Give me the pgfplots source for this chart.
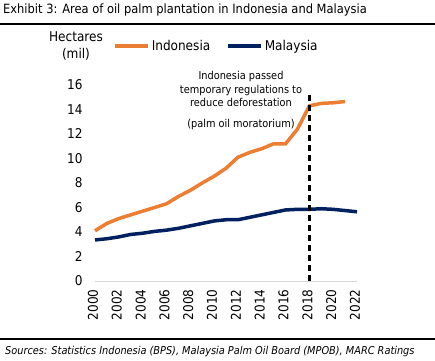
\documentclass[border=0pt]{standalone}
\usepackage{fontspec}
\setmainfont{DejaVu Sans Condensed}[ItalicFont={DejaVu Sans Condensed Oblique}]
\usepackage{pgfplots}
\pgfplotsset{compat=1.18}
\definecolor{ido}{RGB}{237,125,49}
\definecolor{mys}{RGB}{0,32,96}
\begin{document}
\begin{tikzpicture}
\useasboundingbox (0bp,0bp) rectangle (435bp,361bp);
\node[anchor=west, inner sep=0pt, font=\fontsize{12.8}{14}\selectfont] at (3bp,351bp) {Exhibit 3: Area of oil palm plantation in Indonesia and Malaysia};
\draw[line width=1.2bp] (0bp,337bp) -- (435bp,337bp);
\draw[line width=1.2bp] (0bp,22bp) -- (435bp,22bp);
\node[anchor=west, inner sep=0pt, font=\fontsize{10.9}{12}\selectfont\itshape] at (5bp,9bp) {Sources: Statistics Indonesia (BPS), Malaysia Palm Oil Board (MPOB), MARC Ratings};
\node[align=center, inner sep=0pt, font=\fontsize{13.5}{18}\selectfont] at (76bp,315bp) {Hectares\\(mil)};
\begin{axis}[
  at={(95bp,80bp)}, anchor=south west,
  scale only axis, width=262bp, height=196bp,
  xmin=2000, xmax=2022, ymin=0, ymax=16,
  xtick={2000,2002,...,2022}, ytick={0,2,...,16},
  x tick label style={/pgf/number format/1000 sep={}, rotate=90, anchor=east, font=\fontsize{13.5}{15}\selectfont, xshift=-5bp, yshift=2bp},
  y tick label style={font=\fontsize{13.5}{15}\selectfont, xshift=-9bp},
  /pgf/number format/assume math mode=true,
  major tick length=0pt,
  separate axis lines,
  y axis line style={draw=none},
  x axis line style={draw=black!15, line width=0.8bp},
  axis x line*=bottom, axis y line*=left,
  legend columns=2,
  legend style={draw=none, fill=none, at={(0.069,1.199)}, anchor=west, font=\fontsize{13.5}{15}\selectfont, inner sep=0pt,
    /tikz/every even column/.append style={column sep=14bp}},
  legend image code/.code={\draw[#1, line width=3.5bp] (0bp,0bp) -- (33bp,0bp);},
  clip=false,
]
\addplot[ido, line width=3.5bp] table {
x y
2000 4.1
2001 4.7
2002 5.1
2003 5.4
2004 5.7
2005 6.0
2006 6.3
2007 6.9
2008 7.4
2009 8.0
2010 8.55
2011 9.2
2012 10.1
2013 10.5
2014 10.8
2015 11.2
2016 11.2
2017 12.4
2018 14.3
2019 14.5
2020 14.55
2021 14.65
};
\addlegendentry{Indonesia}
\addplot[mys, line width=3.5bp] table {
x y
2000 3.35
2001 3.45
2002 3.6
2003 3.8
2004 3.9
2005 4.05
2006 4.15
2007 4.3
2008 4.5
2009 4.7
2010 4.9
2011 5.0
2012 5.0
2013 5.2
2014 5.4
2015 5.6
2016 5.8
2017 5.85
2018 5.85
2019 5.9
2020 5.85
2021 5.75
2022 5.65
};
\addlegendentry{Malaysia}
\addplot[black, line width=2.5bp, dash pattern=on 6bp off 4bp, forget plot] coordinates {(2018,0) (2018,15.3)};
\end{axis}
\node[align=center, inner sep=0pt, font=\fontsize{10.9}{14}\selectfont] at (241bp,272bp) {Indonesia passed\\temporary regulations to\\reduce deforestation};
\node[inner sep=0pt, font=\fontsize{10.9}{14}\selectfont] at (241bp,236bp) {(palm oil moratorium)};
\end{tikzpicture}
\end{document}
